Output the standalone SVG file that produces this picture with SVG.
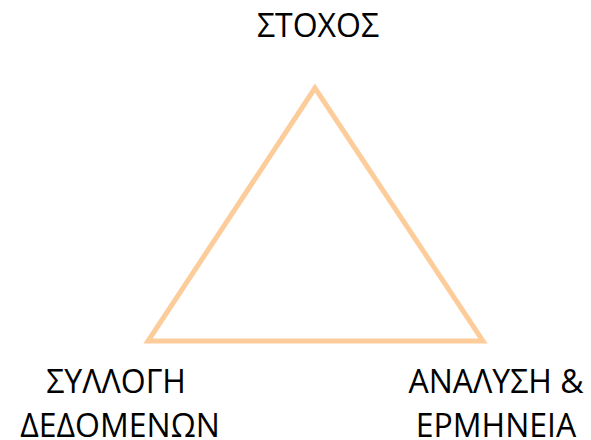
<svg xmlns="http://www.w3.org/2000/svg" width="591" height="440" viewBox="0 0 591 440">
<style>
.t{font-family:"Open Sans","Noto Sans","Liberation Sans",sans-serif;font-size:32px;fill:#000;text-anchor:middle}
.tri{fill:none;stroke:#FCCD9B;stroke-width:5;stroke-linejoin:miter}
</style>
<rect width="591" height="440" fill="#fff"/>
<g id="connectors">
<polygon class="tri" points="315,88 148,341 483,341"/>
</g>
<g id="goal"><text class="t" x="318" y="37">ΣΤΟΧΟΣ</text></g>
<g id="collection"><text class="t" x="116" y="393">ΣΥΛΛΟΓΗ</text><text class="t" x="120" y="437">ΔΕΔΟΜΕΝΩΝ</text></g>
<g id="analysis"><text class="t" x="496" y="393">ΑΝΑΛΥΣΗ &amp;</text><text class="t" x="496" y="437">ΕΡΜΗΝΕΙΑ</text></g>
</svg>
